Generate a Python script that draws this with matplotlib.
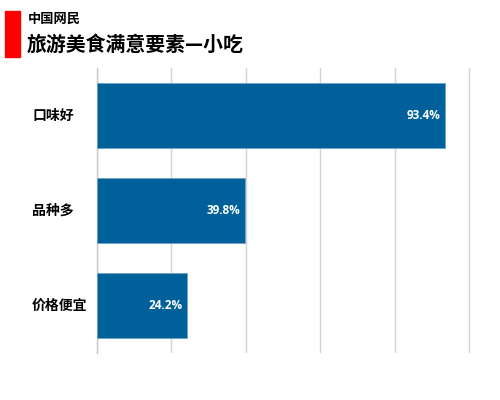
import matplotlib
matplotlib.use('Agg')
import matplotlib.pyplot as plt
import matplotlib.transforms as mtransforms
from matplotlib.patches import Rectangle

plt.rcParams['font.family'] = ['Noto Sans CJK SC', 'DejaVu Sans']

categories = ['口味好', '品种多', '价格便宜']
values = [93.4, 39.8, 24.2]
value_labels = ['93.4%', '39.8%', '24.2%']
x_ticks = [0, 20, 40, 60, 80, 100]

bar_color = '#00609a'

fig = plt.figure(figsize=(5, 4), dpi=100)
ax = fig.add_axes([0.1934, 0.1175, 0.749, 0.7125])

y = list(range(len(categories)))
ax.barh(y, values, height=0.685, color=bar_color, edgecolor='#6fa3c6', linewidth=0.6, zorder=3)

for i, v in enumerate(values):
    ax.text(v - 1.2, i, value_labels[i], ha='right', va='center', color='white',
            fontsize=8.5, fontweight='bold', family=['Open Sans', 'DejaVu Sans'], zorder=4)

ax.set_xlim(0, 100.5)
ax.set_ylim(2.5, -0.5)
ax.set_xticks(x_ticks)
ax.set_xticklabels([])
ax.set_yticks([])
ax.tick_params(length=0)
ax.grid(axis='x', color='#d4d4d4', linewidth=1.0, zorder=0)
for s in ['top', 'right', 'bottom']:
    ax.spines[s].set_visible(False)
ax.spines['left'].set_color('#c8c8c8')
ax.spines['left'].set_linewidth(1.0)

# category labels, left aligned at a fixed figure x
trans = mtransforms.blended_transform_factory(fig.transFigure, ax.transData)
for i, c in enumerate(categories):
    ax.text(0.064, i, c, transform=trans, ha='left', va='center',
            fontsize=10, fontweight='bold', color='black')

# title block
fig.patches.append(Rectangle((0.010, 1 - 57 / 400), 0.030, 46 / 400, transform=fig.transFigure,
                             color='#ff0000', zorder=5))
fig.text(0.056, 1 - 19 / 400, '中国网民', fontsize=9.5, fontweight='bold', va='center', ha='left')
fig.text(0.054, 1 - 44 / 400, '旅游美食满意要素—小吃', fontsize=14.3, fontweight='bold',
         va='center', ha='left')

fig.savefig('out.png', dpi=100)
